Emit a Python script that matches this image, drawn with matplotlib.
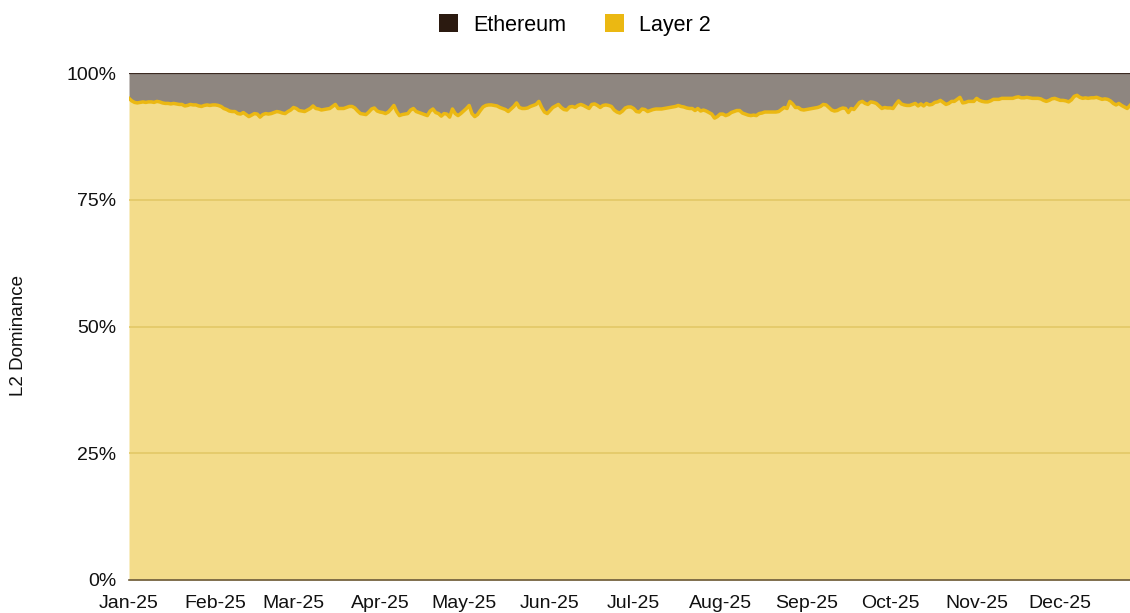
import numpy as np
import pandas as pd
import matplotlib
matplotlib.use('Agg')
import matplotlib.pyplot as plt
import matplotlib.dates as mdates
from matplotlib.patches import Patch

plt.rcParams['font.family'] = ['Liberation Sans', 'DejaVu Sans']

# Daily L2 share of activity (%), month by month
jan = [95.0, 94.5, 94.2, 94.1, 94.2, 94.3, 94.2, 94.3, 94.3, 94.2, 94.4, 94.3, 94.1, 94.0, 94.0, 93.9,
       94.0, 93.9, 93.8, 93.8, 93.5, 93.6, 93.8, 93.7, 93.7, 93.5, 93.4, 93.6, 93.7, 93.6, 93.7]
feb = [93.7, 93.6, 93.4, 93.0, 92.8, 92.5, 92.4, 92.4, 92.0, 91.9, 92.2, 91.8, 91.4, 91.7, 92.0, 91.9,
       91.3, 91.8, 92.0, 91.9, 92.0, 92.2, 92.4, 92.3, 92.1, 92.0, 92.4, 92.7]
mar = [93.2, 93.0, 92.6, 92.5, 92.4, 92.7, 93.0, 93.5, 93.0, 92.9, 92.7, 92.8, 92.9, 93.0, 93.4, 93.8,
       93.0, 93.0, 93.0, 93.2, 93.4, 93.4, 93.1, 92.5, 92.0, 91.9, 91.8, 92.3, 92.9, 93.1, 92.5]
apr = [92.3, 92.2, 92.0, 92.3, 92.9, 93.6, 92.4, 91.6, 91.8, 91.9, 92.0, 92.7, 93.0, 92.4, 92.2, 92.0,
       91.8, 91.6, 92.5, 92.9, 92.2, 92.0, 91.5, 92.0, 91.9, 91.3, 92.9, 92.0, 91.6, 92.0]
may = [92.5, 93.0, 93.6, 92.0, 91.4, 91.8, 92.6, 93.3, 93.6, 93.7, 93.7, 93.6, 93.5, 93.2, 93.0, 92.8,
       92.4, 92.9, 93.4, 94.1, 93.2, 93.0, 93.0, 93.1, 93.4, 93.6, 93.8, 94.4, 93.2, 92.3, 92.0]
jun = [92.6, 93.2, 93.5, 93.8, 93.2, 92.8, 92.7, 93.3, 93.4, 93.2, 93.6, 93.8, 93.6, 93.3, 93.0, 93.8,
       93.9, 93.6, 93.2, 93.6, 93.7, 93.6, 93.4, 92.7, 92.3, 92.1, 92.5, 93.1, 93.3, 93.3]
jul = [93.0, 92.4, 92.3, 92.9, 92.8, 92.4, 92.6, 92.8, 92.9, 92.9, 92.9, 93.0, 93.1, 93.2, 93.3, 93.4,
       93.6, 93.4, 93.3, 93.1, 93.0, 93.0, 92.6, 93.0, 92.5, 92.7, 92.5, 92.2, 91.9, 91.1, 91.4]
aug = [91.9, 91.9, 91.6, 91.8, 92.2, 92.4, 92.6, 92.6, 92.1, 91.9, 91.7, 91.6, 91.7, 91.6, 92.0, 92.1,
       92.3, 92.3, 92.3, 92.3, 92.3, 92.4, 92.8, 93.2, 93.0, 94.4, 93.9, 93.2, 93.2, 92.8, 92.7]
sep = [92.8, 92.9, 93.0, 93.1, 93.2, 93.4, 93.8, 93.7, 93.2, 92.7, 92.5, 92.6, 92.9, 93.1, 93.0, 92.2,
       93.0, 92.8, 93.5, 94.2, 94.4, 94.0, 93.8, 94.3, 94.2, 94.0, 93.5, 93.0, 93.2, 93.1]
oct_ = [93.1, 93.0, 93.8, 94.5, 93.9, 93.7, 93.6, 93.6, 93.8, 94.0, 93.5, 93.9, 93.5, 94.0, 93.7, 93.8,
        94.2, 94.3, 94.6, 94.2, 93.8, 94.0, 94.4, 94.4, 94.8, 95.2, 94.1, 94.2, 94.4, 94.4, 94.4]
nov = [95.0, 94.6, 94.4, 94.3, 94.3, 94.5, 94.8, 94.8, 94.8, 95.0, 95.0, 95.0, 95.0, 95.0, 95.2, 95.3,
       95.1, 95.1, 95.2, 95.1, 95.0, 95.0, 95.0, 94.9, 94.6, 94.4, 94.6, 94.9, 95.0, 94.8]
dec = [94.6, 94.6, 94.5, 94.3, 94.7, 95.4, 95.6, 95.2, 95.0, 95.1, 95.0, 95.1, 95.1, 95.2, 95.0, 94.8,
       94.9, 94.8, 94.5, 94.0, 93.7, 94.0, 93.6, 93.3, 93.0, 93.6]

layer2 = np.array(jan + feb + mar + apr + may + jun + jul + aug + sep + oct_ + nov + dec)
dates = pd.date_range('2025-01-01', periods=len(layer2), freq='D')
ethereum = 100 - layer2

fig = plt.figure(figsize=(11.3, 6.13), dpi=100)
ax = fig.add_axes([129 / 1130, 1 - 580 / 613, 1 - 129 / 1130, (580 - 73) / 613])

# stacked areas: Layer 2 at the bottom, Ethereum on top
ax.fill_between(dates, 0, layer2, color='#F3DC8A', lw=0, zorder=1)
ax.fill_between(dates, layer2, layer2 + ethereum, color='#8E8680', lw=0, zorder=1)
ax.plot(dates, layer2, color='#EBB812', lw=2.5, zorder=3)
ax.plot(dates, layer2 + ethereum, color='#3B2A22', lw=1.6, zorder=3)

for g in [25, 50, 75]:
    ax.axhline(g, color='#E3C866', lw=1.2, zorder=2)

ax.set_xlim(dates[0], dates[-1])
ax.set_ylim(0, 100)
ax.set_yticks([0, 25, 50, 75, 100])
ax.set_yticklabels(['0%', '25%', '50%', '75%', '100%'])
ax.xaxis.set_major_locator(mdates.MonthLocator())
ax.xaxis.set_major_formatter(mdates.DateFormatter('%b-%y'))
ax.tick_params(axis='both', length=0, labelsize=14, colors='#111111')
ax.tick_params(axis='x', pad=11)
ax.tick_params(axis='y', pad=9)

for s in ['top', 'right', 'left']:
    ax.spines[s].set_visible(False)
ax.spines['bottom'].set_color('#6B5A3A')
ax.spines['bottom'].set_linewidth(1.2)
ax.spines['bottom'].set_zorder(4)

fig.text(19 / 1130, 1 - 336 / 613, 'L2 Dominance', rotation=90, ha='center', va='center',
         fontsize=13.5, color='#111111')

handles = [Patch(facecolor='#2B1A10', edgecolor='none', label='Ethereum'),
           Patch(facecolor='#EBB812', edgecolor='none', label='Layer 2')]
fig.legend(handles=handles, loc='center', bbox_to_anchor=(575 / 1130, 1 - 25 / 613), ncol=2,
           frameon=False, fontsize=15.5, handlelength=0.9, handleheight=0.9,
           handletextpad=0.7, columnspacing=1.8)

fig.savefig('out.png', dpi=100)
